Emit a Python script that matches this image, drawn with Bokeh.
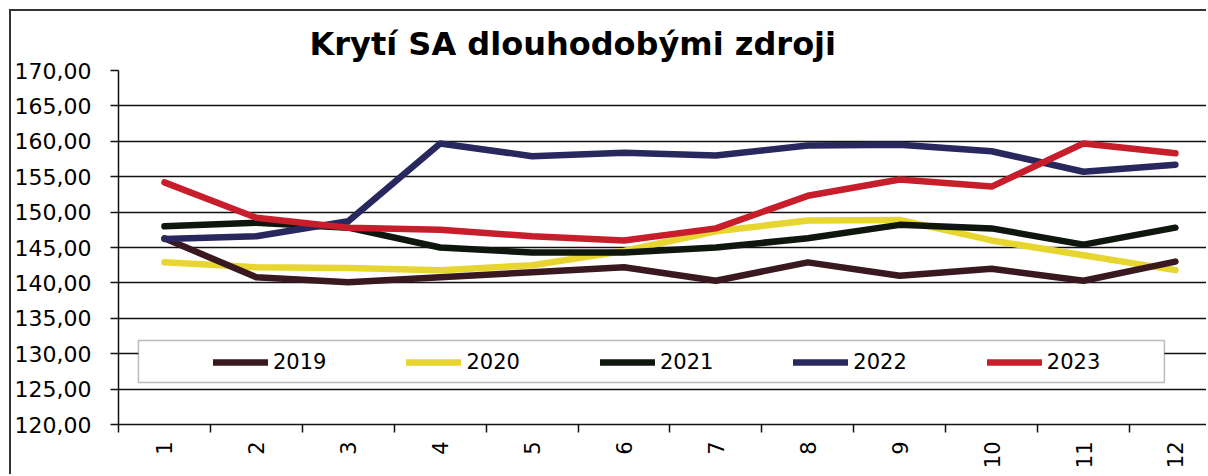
import math
from bokeh.plotting import figure
from bokeh.models import (FixedTicker, Legend, LegendItem, BoxAnnotation)
from bokeh.embed import file_html
from bokeh.resources import INLINE

# ---- data ----
months = [1, 2, 3, 4, 5, 6, 7, 8, 9, 10, 11, 12]
month_labels = ["1", "2", "3", "4", "5", "6", "7", "8", "9", "10", "11", "12"]
years = ["2019", "2020", "2021", "2022", "2023"]
v2019 = [146.3, 140.8, 140.1, 140.8, 141.5, 142.2, 140.3, 142.9, 141.0, 142.0, 140.3, 143.0]
v2020 = [142.9, 142.2, 142.1, 141.8, 142.5, 144.5, 147.3, 148.8, 148.9, 146.0, 143.9, 141.8]
v2021 = [148.0, 148.5, 147.8, 145.0, 144.3, 144.3, 145.0, 146.3, 148.2, 147.7, 145.4, 147.8]
v2022 = [146.2, 146.6, 148.7, 159.7, 157.9, 158.4, 158.0, 159.4, 159.5, 158.6, 155.7, 156.7]
v2023 = [154.2, 149.2, 147.8, 147.5, 146.6, 146.0, 147.7, 152.3, 154.6, 153.6, 159.7, 158.3]
y_ticks = [120, 125, 130, 135, 140, 145, 150, 155, 160, 165, 170]
y_tick_labels = ["120,00", "125,00", "130,00", "135,00", "140,00", "145,00",
                 "150,00", "155,00", "160,00", "165,00", "170,00"]

series = {"2019": v2019, "2020": v2020, "2021": v2021, "2022": v2022, "2023": v2023}
colors = {"2019": "#3a1820", "2020": "#e8d630", "2021": "#0e160e",
          "2022": "#28285e", "2023": "#c81e2c"}

FONT = "DejaVu Sans"

p = figure(width=1197, height=465, x_range=(0.5, 12.36), y_range=(120, 170),
           output_backend="svg", toolbar_location=None,
           min_border_left=106, min_border_right=0, min_border_top=59,
           min_border_bottom=52)
p.styles = {"border-left": "2px solid #333", "border-top": "2px solid #333",
            "margin-left": "9px", "margin-top": "9px"}
p.outline_line_color = None
p.background_fill_color = "white"
p.border_fill_color = "white"

# title
p.title.text = "Krytí SA dlouhodobými zdroji"
p.title.text_font = FONT
p.title.text_font_style = "bold"
p.title.text_font_size = "32px"
p.title.text_color = "black"
p.title.align = "left"
p.title.offset = 191
p.title.standoff = 15

# grid
p.xgrid.visible = False
p.ygrid.grid_line_color = "#111111"
p.ygrid.grid_line_width = 1.5
p.ygrid.ticker = FixedTicker(ticks=y_ticks)

# y axis
ya = p.yaxis[0]
ya.ticker = FixedTicker(ticks=y_ticks)
ya.major_label_overrides = {t: l for t, l in zip(y_ticks, y_tick_labels)}
ya.major_label_text_font = FONT
ya.major_label_text_font_size = "22px"
ya.major_label_text_color = "black"
ya.major_tick_out = 8
ya.major_tick_in = 0
ya.minor_tick_out = 0
ya.minor_tick_in = 0
ya.major_label_standoff = 19
ya.axis_line_color = "#111111"
ya.axis_line_width = 1.5
ya.major_tick_line_color = "#111111"
ya.major_tick_line_width = 1.5

# x axis
xa = p.xaxis[0]
xa.ticker = FixedTicker(ticks=months, minor_ticks=[m - 0.5 for m in months])
xa.major_label_overrides = {m: l for m, l in zip(months, month_labels)}
xa.major_label_orientation = math.pi / 2
xa.major_label_text_font = FONT
xa.major_label_text_font_size = "21px"
xa.major_label_text_color = "black"
xa.major_tick_out = 0
xa.major_tick_in = 0
xa.minor_tick_out = 8
xa.minor_tick_in = 0
xa.minor_tick_line_color = "#111111"
xa.minor_tick_line_width = 1.5
xa.major_label_standoff = 9
xa.axis_line_color = "#111111"
xa.axis_line_width = 1.5

# lines
renderers = {}
for y in ["2020", "2019", "2021", "2022", "2023"]:
    renderers[y] = p.line(months, series[y], line_color=colors[y], line_width=6.5,
                          line_join="round", line_cap="round")

# legend box
box = BoxAnnotation(left=0.717, right=11.88, top=131.86, bottom=125.93,
                    fill_color="white", fill_alpha=1.0,
                    line_color="#222222", line_width=1.5, level="annotation")
p.add_layout(box)

legend = Legend(items=[LegendItem(label=y, renderers=[renderers[y]]) for y in years],
                orientation="horizontal", location=(95, 50),
                glyph_width=55, glyph_height=20, label_standoff=5, spacing=80,
                padding=0, margin=0, border_line_alpha=0, background_fill_alpha=0,
                label_text_font=FONT, label_text_font_size="21px",
                label_text_color="black")
p.add_layout(legend, "center")

open("out.html", "w").write(file_html(p, INLINE))
